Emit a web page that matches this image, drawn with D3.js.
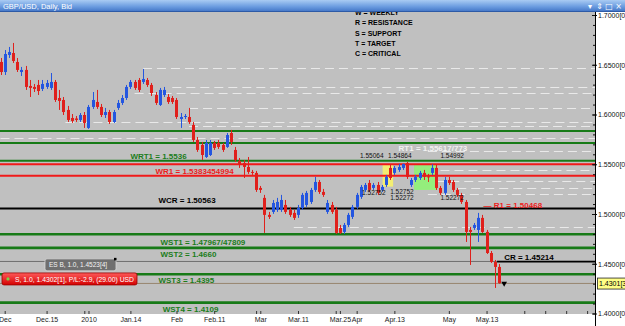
<!DOCTYPE html>
<html lang="en">
<head>
<meta charset="UTF-8">
<title>GBP/USD, Daily, Bid</title>
<script src="https://d3js.org/d3.v7.min.js"></script>
<style>
  body { margin: 0; background: #fff; }
  svg { display: block; font-family: "Liberation Sans", Arial, sans-serif; }
</style>
</head>
<body>
<div id="chart"></div>
<script>
// daily candles, oldest first (start of Dec 2009 .. mid May 2010)
const opens = [
  1.6528, 1.6427, 1.6598, 1.6618, 1.6528, 1.6427, 1.6448, 1.6287, 1.6277, 1.6297,
  1.6257, 1.6277, 1.6267, 1.6327, 1.6166, 1.6146, 1.6046, 1.5965, 1.5960, 1.5945,
  1.5995, 1.5865, 1.6076, 1.6126, 1.6076, 1.5995, 1.6025, 1.5925, 1.6066, 1.6116,
  1.6166, 1.6277, 1.6327, 1.6347, 1.6327, 1.6347, 1.6297, 1.6196, 1.6096, 1.6196,
  1.6176, 1.6166, 1.6146, 1.5955, 1.5975, 1.5975, 1.5895, 1.5744, 1.5694, 1.5573,
  1.5593, 1.5714, 1.5714, 1.5694, 1.5674, 1.5814, 1.5644, 1.5533, 1.5513, 1.5473,
  1.5423, 1.5413, 1.5262, 1.5162, 1.4991, 1.5021, 1.5041, 1.5041, 1.5091, 1.5041,
  1.5011, 1.4991, 1.5061, 1.5091, 1.5121, 1.5242, 1.5322, 1.5222, 1.5021, 1.5091,
  1.5041, 1.4860, 1.4820, 1.4890, 1.4971, 1.5071, 1.5172, 1.5242, 1.5312, 1.5262,
  1.5292, 1.5242, 1.5292, 1.5463, 1.5413, 1.5443, 1.5463, 1.5513, 1.5292, 1.5342,
  1.5362, 1.5413, 1.5378, 1.5413, 1.5463, 1.5262, 1.5212, 1.5342, 1.5322, 1.5242,
  1.5192, 1.5121, 1.4840, 1.4860, 1.4840, 1.4961, 1.4820, 1.4608, 1.4518, 1.4468
];
const highs = [
  1.6568, 1.6648, 1.6679, 1.6719, 1.6568, 1.6478, 1.6488, 1.6347, 1.6307, 1.6347,
  1.6347, 1.6347, 1.6417, 1.6347, 1.6247, 1.6176, 1.6086, 1.6005, 1.5985, 1.6015,
  1.6025, 1.6096, 1.6226, 1.6247, 1.6106, 1.6066, 1.6046, 1.6046, 1.6146, 1.6196,
  1.6297, 1.6347, 1.6347, 1.6367, 1.6458, 1.6367, 1.6317, 1.6226, 1.6267, 1.6277,
  1.6206, 1.6186, 1.6166, 1.6015, 1.6005, 1.6066, 1.5925, 1.5774, 1.5724, 1.5744,
  1.5744, 1.5734, 1.5744, 1.5714, 1.5814, 1.5845, 1.5674, 1.5563, 1.5543, 1.5573,
  1.5443, 1.5433, 1.5282, 1.5192, 1.5021, 1.5141, 1.5162, 1.5192, 1.5141, 1.5071,
  1.5041, 1.5091, 1.5212, 1.5232, 1.5262, 1.5373, 1.5342, 1.5252, 1.5141, 1.5121,
  1.5071, 1.4890, 1.4910, 1.5011, 1.5091, 1.5212, 1.5292, 1.5312, 1.5342, 1.5312,
  1.5322, 1.5292, 1.5393, 1.5493, 1.5483, 1.5503, 1.5506, 1.5523, 1.5362, 1.5393,
  1.5433, 1.5443, 1.5403, 1.5499, 1.5493, 1.5282, 1.5373, 1.5373, 1.5342, 1.5262,
  1.5212, 1.5141, 1.4870, 1.4910, 1.5011, 1.4991, 1.4840, 1.4628, 1.4538, 1.4498
];
const lows = [
  1.6397, 1.6397, 1.6568, 1.6518, 1.6427, 1.6387, 1.6247, 1.6176, 1.6226, 1.6196,
  1.6236, 1.6257, 1.6247, 1.6126, 1.6046, 1.5995, 1.5925, 1.5915, 1.5925, 1.5925,
  1.5865, 1.5855, 1.6056, 1.6056, 1.5975, 1.5965, 1.5905, 1.5915, 1.6046, 1.6096,
  1.6146, 1.6257, 1.6247, 1.6226, 1.6307, 1.6277, 1.6186, 1.6096, 1.6086, 1.6176,
  1.6106, 1.6106, 1.5955, 1.5865, 1.5955, 1.5905, 1.5724, 1.5624, 1.5543, 1.5563,
  1.5583, 1.5644, 1.5654, 1.5624, 1.5664, 1.5694, 1.5523, 1.5463, 1.5362, 1.5403,
  1.5393, 1.5222, 1.5212, 1.4810, 1.4950, 1.5001, 1.5021, 1.5021, 1.5001, 1.4971,
  1.4940, 1.4961, 1.5041, 1.5071, 1.5101, 1.5222, 1.5202, 1.5172, 1.5001, 1.5001,
  1.4800, 1.4800, 1.4800, 1.4870, 1.4950, 1.5051, 1.5152, 1.5222, 1.5222, 1.5242,
  1.5192, 1.5222, 1.5272, 1.5342, 1.5393, 1.5423, 1.5443, 1.5352, 1.5272, 1.5322,
  1.5342, 1.5342, 1.5322, 1.5393, 1.5242, 1.5192, 1.5192, 1.5292, 1.5222, 1.5172,
  1.5101, 1.4719, 1.4488, 1.4840, 1.4719, 1.4810, 1.4598, 1.4508, 1.4257, 1.4300
];
const closes = [
  1.6427, 1.6608, 1.6628, 1.6538, 1.6448, 1.6448, 1.6277, 1.6267, 1.6257, 1.6236,
  1.6307, 1.6317, 1.6327, 1.6146, 1.6136, 1.6025, 1.5945, 1.5935, 1.5945, 1.5995,
  1.5915, 1.6076, 1.6146, 1.6076, 1.5995, 1.6025, 1.5925, 1.6025, 1.6116, 1.6166,
  1.6277, 1.6327, 1.6267, 1.6247, 1.6357, 1.6297, 1.6216, 1.6116, 1.6247, 1.6247,
  1.6126, 1.6126, 1.5975, 1.5975, 1.5985, 1.5925, 1.5744, 1.5644, 1.5593, 1.5714,
  1.5714, 1.5664, 1.5674, 1.5644, 1.5794, 1.5724, 1.5543, 1.5503, 1.5473, 1.5423,
  1.5413, 1.5242, 1.5242, 1.4991, 1.4971, 1.5111, 1.5121, 1.5141, 1.5021, 1.4991,
  1.4961, 1.5061, 1.5192, 1.5212, 1.5242, 1.5322, 1.5222, 1.5192, 1.5111, 1.5021,
  1.4810, 1.4810, 1.4890, 1.4991, 1.5071, 1.5192, 1.5272, 1.5292, 1.5242, 1.5292,
  1.5212, 1.5272, 1.5373, 1.5362, 1.5463, 1.5473, 1.5503, 1.5373, 1.5342, 1.5373,
  1.5413, 1.5373, 1.5368, 1.5463, 1.5262, 1.5212, 1.5342, 1.5312, 1.5242, 1.5192,
  1.5121, 1.4820, 1.4820, 1.4890, 1.4961, 1.4820, 1.4608, 1.4518, 1.4468, 1.4305
];

// time axis
const dateLabels = ["Dec", "Dec.15", "2010", "Jan.14", "Feb", "Feb.11", "Mar", "Mar.11", "Mar.25", "Apr", "Apr.13", "May", "May.13"];
const dateBars = [1, 11, 21, 31, 42, 51, 62, 71, 81, 85, 94, 107, 116];
const extraTickBars = [20, 61, 80, 125, 130, 135, 140];

// price axis
const priceTicks = [1.40, 1.45, 1.50, 1.55, 1.60, 1.65, 1.70];
const bidPrice = 1.4301;

// horizontal levels
const greenLevels = [1.5834, 1.5714, 1.5536, 1.47967, 1.4660, 1.4395, 1.4109];
const redLevels = [1.54992, 1.53834];
const wcrLevel = 1.50563;
const crLevel = 1.45214;
const crStartBar = 118.5;
const pendingLevel = 1.4523;
const openLevel = 1.4302;

// dashed pivot lines and the bar where each starts
const pivotLevels = [1.6468, 1.6277, 1.6216, 1.6066, 1.5920, 1.5885, 1.5764, 1.5634, 1.5443, 1.5332, 1.5262, 1.5202, 1.4870];
const pivotStarts = [34, 41, 32, 45, 15.5, 45, 0, 102, 105, 104, 109, 102, 70];

// shaded zones [bar from, bar to], [price top, price bottom]
const zoneBars = [[91.2, 93.7], [98.7, 104.2]];
const zonePrices = [[1.5493, 1.5275], [1.5493, 1.5242]];

// level names
const levelNames = ["WRT1 = 1.5536", "WR1 = 1.5383454994", "WCR = 1.50563", "WST1 = 1.47967/47809",
  "WST2 = 1.4660", "WST3 = 1.4395", "WST4 = 1.4109", "CR = 1.45214", "\u2014 R1 = 1.50468", "RT1 = 1.55617/773"];
const levelNameBars = [31, 37, 37.7, 38.2, 38.2, 37.7, 38.7, 120.2, 115.3, 95];
const levelNamePrices = [1.5536, 1.53834, 1.50563, 1.47967, 1.4660, 1.4395, 1.4109, 1.45214, 1.50468, 1.55617];

// small price notes
const noteTexts = ["1.55064", "1.54864", "1.54992", "1.52752", "1.52752", "1.52272", "1.52272"];
const noteBars = [85.8, 92.5, 105, 86.3, 93, 93, 105];
const notePrices = [1.5558, 1.5558, 1.5558, 1.5192, 1.5202, 1.5141, 1.5141];

const legendLines = ["W = WEEKLY", "R = RESISTANCE", "S = SUPPORT", "T = TARGET", "C = CRITICAL"];

const w = 625, h = 326;
const plotRight = 595, plotTop = 12, plotBottom = 314;

const x = d3.scaleLinear().domain([0, 142]).range([0.5, 595.5]);
const y = d3.scaleLinear().domain([1.4, 1.7]).range([313.5, 15]);

const svg = d3.select("#chart").append("svg")
  .attr("width", w)
  .attr("height", h);

const defs = svg.append("defs");
defs.append("clipPath").attr("id", "plot-clip")
  .append("rect").attr("x", 0).attr("y", plotTop).attr("width", plotRight).attr("height", plotBottom - plotTop);
const tg = defs.append("linearGradient").attr("id", "titlebar").attr("x1", 0).attr("x2", 0).attr("y1", 0).attr("y2", 1);
tg.append("stop").attr("offset", "0%").attr("stop-color", "#a9cbf3");
tg.append("stop").attr("offset", "55%").attr("stop-color", "#6b9ce0");
tg.append("stop").attr("offset", "100%").attr("stop-color", "#3f72c4");
const rg = defs.append("linearGradient").attr("id", "redbox").attr("x1", 0).attr("x2", 0).attr("y1", 0).attr("y2", 1);
rg.append("stop").attr("offset", "0%").attr("stop-color", "#ff5a5a");
rg.append("stop").attr("offset", "100%").attr("stop-color", "#d40000");

// backgrounds
svg.append("rect").attr("width", w).attr("height", h).attr("fill", "#fff");
svg.append("rect").attr("x", 0).attr("y", plotTop).attr("width", plotRight).attr("height", plotBottom - plotTop).attr("fill", "#c0c0c0");

const plot = svg.append("g").attr("clip-path", "url(#plot-clip)");

// zones
const zoneColors = ["#f3ee72", "#94ee7c"];
plot.selectAll("rect.zone").data(zoneBars).enter().append("rect")
  .attr("class", "zone")
  .attr("x", d => x(d[0]))
  .attr("width", d => x(d[1]) - x(d[0]))
  .attr("y", (d, i) => y(zonePrices[i][0]))
  .attr("height", (d, i) => y(zonePrices[i][1]) - y(zonePrices[i][0]))
  .attr("fill", (d, i) => zoneColors[i]);

// dashed pivots
plot.selectAll("line.pivot").data(pivotLevels).enter().append("line")
  .attr("class", "pivot")
  .attr("x1", (d, i) => x(pivotStarts[i]))
  .attr("x2", plotRight)
  .attr("y1", d => Math.round(y(d)) + 0.5)
  .attr("y2", d => Math.round(y(d)) + 0.5)
  .attr("stroke", "#e9e9e9")
  .attr("stroke-width", 1.2)
  .attr("stroke-dasharray", "9,5");

// order lines
plot.append("line")
  .attr("x1", 0).attr("x2", plotRight)
  .attr("y1", y(pendingLevel)).attr("y2", y(pendingLevel))
  .attr("stroke", "#6e6e6e").attr("stroke-width", 1);
plot.append("line")
  .attr("x1", 0).attr("x2", plotRight)
  .attr("y1", y(openLevel)).attr("y2", y(openLevel))
  .attr("stroke", "#97856f").attr("stroke-width", 1);

// solid levels
plot.selectAll("line.green").data(greenLevels).enter().append("line")
  .attr("class", "green")
  .attr("x1", 0).attr("x2", plotRight)
  .attr("y1", d => y(d)).attr("y2", d => y(d))
  .attr("stroke", "#177a17")
  .attr("stroke-width", d => d < 1.5 ? 2.6 : 2);
plot.selectAll("line.red").data(redLevels).enter().append("line")
  .attr("class", "red")
  .attr("x1", 0).attr("x2", plotRight)
  .attr("y1", d => y(d)).attr("y2", d => y(d))
  .attr("stroke", "#f01a1a")
  .attr("stroke-width", 2);
plot.append("line")
  .attr("x1", 0).attr("x2", plotRight)
  .attr("y1", y(wcrLevel)).attr("y2", y(wcrLevel))
  .attr("stroke", "#000").attr("stroke-width", 2);
plot.append("line")
  .attr("x1", x(crStartBar)).attr("x2", plotRight)
  .attr("y1", y(crLevel)).attr("y2", y(crLevel))
  .attr("stroke", "#000").attr("stroke-width", 1.6);

// candles
const candles = d3.range(opens.length);
const colorOf = i => closes[i] >= opens[i] ? "#2456e0" : "#e0201c";
plot.selectAll("line.wick").data(candles).enter().append("line")
  .attr("class", "wick")
  .attr("x1", i => Math.round(x(i)) + 0.5)
  .attr("x2", i => Math.round(x(i)) + 0.5)
  .attr("y1", i => y(highs[i]))
  .attr("y2", i => y(lows[i]))
  .attr("stroke", colorOf);
plot.selectAll("rect.body").data(candles).enter().append("rect")
  .attr("class", "body")
  .attr("x", i => Math.round(x(i)) - 1)
  .attr("width", 3)
  .attr("y", i => y(Math.max(opens[i], closes[i])))
  .attr("height", i => Math.max(1, Math.abs(y(opens[i]) - y(closes[i]))))
  .attr("fill", colorOf);

// trade arrow after last bar
const lastBar = opens.length;
plot.append("path")
  .attr("d", d3.symbol(d3.symbolTriangle, 14)())
  .attr("transform", `translate(${x(lastBar + 0.2)},${y(openLevel)}) rotate(180)`)
  .attr("fill", "#000");

// level names
const nameColors = ["#1b7d1b", "#ee1c1c", "#000", "#1b7d1b", "#1b7d1b", "#1b7d1b", "#1b7d1b", "#000", "#ee1c1c", "#f2f2f2"];
const nameDy = [-1.5, -2, -5, 10.5, 9, 9, 9, -2, -1.5, -7];
plot.selectAll("text.note").data(noteTexts).enter().append("text")
  .attr("class", "note")
  .attr("x", (d, i) => x(noteBars[i]))
  .attr("y", (d, i) => y(notePrices[i]))
  .attr("font-size", 6.5)
  .attr("fill", "#111")
  .text(d => d);

plot.selectAll("text.name").data(levelNames).enter().append("text")
  .attr("class", "name")
  .attr("x", (d, i) => x(levelNameBars[i]))
  .attr("y", (d, i) => y(levelNamePrices[i]) + nameDy[i])
  .attr("font-size", 8)
  .attr("font-weight", "bold")
  .attr("fill", (d, i) => nameColors[i])
  .text(d => d);

// legend
plot.selectAll("text.legend").data(legendLines).enter().append("text")
  .attr("class", "legend")
  .attr("x", 355)
  .attr("y", (d, i) => 15.2 + i * 10.2)
  .attr("font-size", 7)
  .attr("font-weight", "bold")
  .attr("fill", "#000")
  .text(d => d);

// order labels
const pend = plot.append("g").attr("transform", `translate(45,${y(pendingLevel) - 2.6})`);
pend.append("rect").attr("width", 71).attr("height", 12).attr("rx", 2)
  .attr("fill", "#6f6f6f").attr("stroke", "#d8d8d8").attr("stroke-width", 0.8);
pend.append("text").attr("x", 4).attr("y", 8.5).attr("font-size", 6.5).attr("fill", "#f4f4f4")
  .text("ES B, 1.0, 1.4523[4]");
pend.append("rect").attr("x", 69).attr("y", -1).attr("width", 2.5).attr("height", 2.5).attr("fill", "#000");

const open = plot.append("g").attr("transform", `translate(2,${y(openLevel) - 10.5})`);
open.append("rect").attr("width", 135).attr("height", 12).attr("rx", 2)
  .attr("fill", "url(#redbox)").attr("stroke", "#9a0000").attr("stroke-width", 0.8);
open.append("circle").attr("cx", 6).attr("cy", 6).attr("r", 1.6).attr("fill", "#7cd04a");
open.append("text").attr("x", 13).attr("y", 8.6).attr("font-size", 6.8).attr("fill", "#fff")
  .text("S, 1.0, 1.4302[1], P/L:-2.9, (29.00) USD");

// bottom axis
const xAxis = d3.axisBottom(x)
  .tickValues(dateBars)
  .tickFormat((d, i) => dateLabels[i])
  .tickSizeInner(-3).tickSizeOuter(0).tickPadding(3);
const gx = svg.append("g").attr("transform", `translate(0,${plotBottom})`).call(xAxis)
  .attr("font-family", null).attr("font-size", 7);
gx.select(".domain").remove();
gx.selectAll("line").attr("stroke", "#333");
gx.selectAll("text").attr("fill", "#222");
const gx2 = svg.append("g").attr("transform", `translate(0,${plotBottom})`)
  .call(d3.axisBottom(x).tickValues(extraTickBars).tickFormat("").tickSizeInner(-3).tickSizeOuter(0));
gx2.select(".domain").remove();
gx2.selectAll("line").attr("stroke", "#333");

// right axis
const yAxis = d3.axisRight(y)
  .tickValues(priceTicks)
  .tickFormat(d => d.toFixed(4) + "[0]")
  .tickSizeInner(5).tickSizeOuter(0).tickPadding(1);
const gy = svg.append("g").attr("transform", "translate(592,0)").call(yAxis)
  .attr("font-family", null).attr("font-size", 7);
gy.select(".domain").remove();
gy.selectAll("line").attr("stroke", "#111");
gy.selectAll("text").attr("fill", "#111");
const gy2 = svg.append("g").attr("transform", "translate(593,0)")
  .call(d3.axisRight(y).ticks(30).tickFormat("").tickSizeInner(3).tickSizeOuter(0));
gy2.select(".domain").remove();
gy2.selectAll("line").attr("stroke", "#111");
svg.append("line")
  .attr("x1", plotRight + 0.5).attr("x2", plotRight + 0.5)
  .attr("y1", plotTop).attr("y2", h)
  .attr("stroke", "#000");

// bid label
const bid = svg.append("g").attr("transform", `translate(597.5,${y(bidPrice) - 5.5})`);
bid.append("rect").attr("width", 30).attr("height", 11).attr("fill", "#ffff86").attr("stroke", "#222").attr("stroke-width", 0.8);
bid.append("text").attr("x", 1.5).attr("y", 8).attr("font-size", 7).attr("fill", "#000").text(bidPrice.toFixed(4) + "[3]");

// title bar
svg.append("rect").attr("x", 0).attr("y", 0).attr("width", w).attr("height", plotTop).attr("fill", "url(#titlebar)");
svg.append("line").attr("x1", 0).attr("x2", w).attr("y1", plotTop - 0.5).attr("y2", plotTop - 0.5).attr("stroke", "#2d5aa6");
svg.append("text").attr("x", 3).attr("y", 8.8).attr("font-size", 7.5).attr("fill", "#fff")
  .text("GBP/USD, Daily, Bid");
svg.selectAll("text.icon").data(["\u25BE", "\u21D5", "\u25A1", "\u00D7"]).enter().append("text")
  .attr("class", "icon")
  .attr("x", (d, i) => 590 + i * 9.5)
  .attr("y", 9)
  .attr("font-size", 8)
  .attr("font-family", "DejaVu Sans")
  .attr("text-anchor", "middle")
  .attr("fill", "#fff")
  .text(d => d);
</script>
</body>
</html>
